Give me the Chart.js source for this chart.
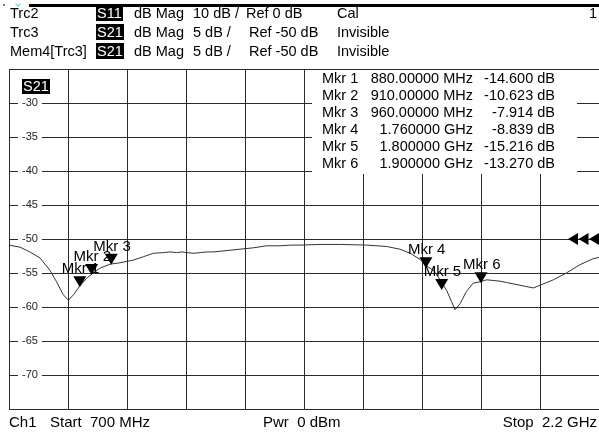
<!DOCTYPE html>
<html>
<head>
<meta charset="utf-8">
<title>S21 trace</title>
<script src="https://cdn.jsdelivr.net/npm/chart.js@4.4.1/dist/chart.umd.min.js"></script>
<style>
  body { margin: 0; background: #fff; }
  #wrap { position: relative; width: 599px; height: 433px; overflow: hidden;
          font-family: 'Liberation Sans', Arial, sans-serif; color: #000; }
  #wrap canvas { position: absolute; left: 0; top: 0; }
  .t { position: absolute; white-space: pre; font-size: 14.5px; line-height: 13px; }
  .r { text-align: right; }
  .badge { background: #000; color: #fff; padding: 0 1px; }
  #topbar { position: absolute; left: 29px; top: 4px; width: 570px; height: 3px; background: #000; }
  #dot { position: absolute; left: 3px; top: 4px; width: 2px; height: 2px; background: #777; }
  #chev { position: absolute; left: 16px; top: 2px; width: 3px; height: 3px;
          border-right: 1px solid #6cc; border-bottom: 1px solid #6cc; transform: rotate(45deg); }
  #mkrbox { position: absolute; left: 312px; top: 70px; width: 265px; height: 104px; background: #fff; }
  #tag { position: absolute; left: 22px; top: 79px; height: 15px; line-height: 15px; font-size: 14.5px;
         background: #000; color: #fff; padding: 0 1px; }
</style>
</head>
<body>
<div id="wrap">
  <canvas id="trace" width="599" height="433"></canvas>
  <div id="dot"></div>
  <div id="chev"></div>
  <div id="topbar"></div>
  <div id="mkrbox"></div>
  <div id="tag">S21</div>
</div>
<script>
// header lines
const traceNames = ['Trc2', 'Trc3', 'Mem4[Trc3]'];
const traceParams = ['S11', 'S21', 'S21'];
const traceFormats = ['dB Mag', 'dB Mag', 'dB Mag'];
const traceScales = ['10 dB /', '5 dB /', '5 dB /'];
const traceRefs = ['Ref 0 dB', 'Ref -50 dB', 'Ref -50 dB'];
const traceStates = ['Cal', 'Invisible', 'Invisible'];

// stimulus axis (MHz) and response axis (dB)
const startMHz = 700;
const stopMHz = 2200;
const freqStep = 150;
const dbTop = -25;
const dbBottom = -75;
const dbStep = 5;
const refLevel = -50;

// S21 trace
const traceFreqs = [700, 728, 753, 779, 804, 821, 838, 851, 864, 880, 897, 914, 931, 957, 982,
  1016, 1042, 1067, 1093, 1110, 1126, 1140, 1152, 1170, 1186, 1203, 1220, 1254, 1287, 1321, 1355,
  1389, 1415, 1440, 1491, 1542, 1609, 1660, 1694, 1720, 1745, 1762, 1779, 1796, 1813, 1825, 1834,
  1847, 1863, 1880, 1897, 1914, 1931, 1948, 1965, 1999, 2033, 2050, 2084, 2117, 2151, 2185, 2200];
const traceDb = [-50.9, -51.2, -51.9, -52.8, -54.6, -56.3, -58.2, -59.0, -58.2, -56.9, -55.8, -55.0,
  -54.3, -53.7, -53.5, -53.1, -52.6, -52.1, -52.0, -51.9, -52.0, -51.9, -52.0, -52.1, -52.0, -51.9,
  -51.9, -51.7, -51.5, -51.3, -51.0, -51.0, -50.9, -50.9, -50.8, -50.8, -50.9, -51.1, -51.5, -52.1,
  -53.0, -54.0, -54.6, -56.0, -57.6, -59.2, -60.4, -59.5, -57.7, -56.5, -56.3, -56.0, -56.1, -56.2,
  -56.4, -56.8, -57.2, -56.8, -56.0, -55.0, -53.8, -52.9, -52.7];

// markers
const markerNames = ['Mkr 1', 'Mkr 2', 'Mkr 3', 'Mkr 4', 'Mkr 5', 'Mkr 6'];
const markerFreqs = [880, 910, 960, 1760, 1800, 1900];
const markerTraceDb = [-57.1, -55.3, -53.8, -54.3, -57.5, -56.5];
const markerReadout = ['-14.600', '-10.623', '-7.914', '-8.839', '-15.216', '-13.270'];

const footerItems = ['Ch1', 'Start  700 MHz', 'Pwr  0 dBm', 'Stop  2.2 GHz'];

const font = "'Liberation Sans', Arial, sans-serif";
const gridColor = '#2b2b2b';
const wrap = document.getElementById('wrap');

function addText(txt, left, top, opts = {}) {
  const el = document.createElement('div');
  el.className = 't' + (opts.right ? ' r' : '');
  if (opts.right) {
    el.style.right = (599 - left) + 'px';
  } else {
    el.style.left = left + 'px';
  }
  el.style.top = top + 'px';
  if (opts.size) el.style.fontSize = opts.size + 'px';
  if (opts.badge) {
    const s = document.createElement('span');
    s.className = 'badge';
    s.textContent = txt;
    el.appendChild(s);
  } else {
    el.textContent = txt;
  }
  wrap.appendChild(el);
}

function stimText(f) {
  return f < 1000 ? f.toFixed(5) + ' MHz' : (f / 1000).toFixed(6) + ' GHz';
}

traceNames.forEach((n, i) => {
  const top = 6.5 + i * 19.3;
  addText(n, 10, top);
  addText(traceParams[i], 96, top, { badge: true });
  addText(traceFormats[i], 134, top);
  addText(traceScales[i], 193, top);
  addText(traceRefs[i], i === 0 ? 246 : 249, top);
  addText(traceStates[i], 337, top);
});
addText('1', 597, 6.5, { right: true });

markerNames.forEach((n, i) => {
  const top = 72.4 + i * 16.9;
  addText(n, 322, top);
  addText(stimText(markerFreqs[i]), 473, top, { right: true });
  addText(markerReadout[i] + ' dB', 555, top, { right: true });
});

addText(footerItems[0], 9, 414.7, { size: 15 });
addText(footerItems[1], 50, 414.7, { size: 15 });
addText(footerItems[2], 263, 414.7, { size: 15 });
addText(footerItems[3], 597, 414.7, { size: 15, right: true });

const markerPlugin = {
  id: 'markers',
  afterDatasetsDraw(chart) {
    const { ctx, chartArea } = chart;
    const x = chart.scales.x;
    const y = chart.scales.y;
    ctx.save();
    ctx.fillStyle = '#000';
    ctx.font = '15px ' + font;
    markerFreqs.forEach((f, i) => {
      const px = x.getPixelForValue(f);
      const py = y.getPixelForValue(markerTraceDb[i]);
      ctx.fillText(markerNames[i], px - 18, py - 14);
      ctx.beginPath();
      ctx.moveTo(px, py);
      ctx.lineTo(px - 6.5, py - 11);
      ctx.lineTo(px + 6.5, py - 11);
      ctx.closePath();
      ctx.fill();
    });
    // reference level arrows at the right edge
    const ry = y.getPixelForValue(refLevel);
    [31, 20.5, 10].forEach(d => {
      const tip = chartArea.right - d;
      ctx.beginPath();
      ctx.moveTo(tip, ry);
      ctx.lineTo(tip + 10, ry - 6);
      ctx.lineTo(tip + 10, ry + 6);
      ctx.closePath();
      ctx.fill();
    });
    ctx.restore();
  }
};

const isEdge = v => v === dbTop || v === dbBottom;

new Chart(document.getElementById('trace'), {
  type: 'line',
  data: {
    datasets: [{
      data: traceFreqs.map((f, i) => ({ x: f, y: traceDb[i] })),
      borderColor: '#333',
      borderWidth: 1,
      pointRadius: 0,
      tension: 0
    }]
  },
  options: {
    responsive: false,
    animation: false,
    layout: { padding: { left: 9, top: 69, right: 0, bottom: 24 } },
    plugins: { legend: { display: false }, tooltip: { enabled: false } },
    scales: {
      x: {
        type: 'linear',
        min: startMHz,
        max: stopMHz,
        ticks: { display: false, stepSize: freqStep },
        grid: {
          drawTicks: false,
          color: c => (c.tick && c.tick.value === stopMHz) ? 'rgba(0,0,0,0)' : gridColor
        },
        border: { color: gridColor }
      },
      y: {
        min: dbBottom,
        max: dbTop,
        afterFit: s => { s.width = 0; },
        ticks: {
          stepSize: dbStep,
          mirror: true,
          padding: 13,
          color: '#222',
          font: { size: 11, family: font },
          callback: v => isEdge(v) ? '' : String(v),
          showLabelBackdrop: true,
          backdropColor: c => (c.tick && isEdge(c.tick.value)) ? 'rgba(0,0,0,0)' : '#fff',
          backdropPadding: { x: 4, y: 1 }
        },
        grid: { drawTicks: false, color: gridColor },
        border: { color: gridColor }
      }
    }
  },
  plugins: [markerPlugin]
});
</script>
</body>
</html>
